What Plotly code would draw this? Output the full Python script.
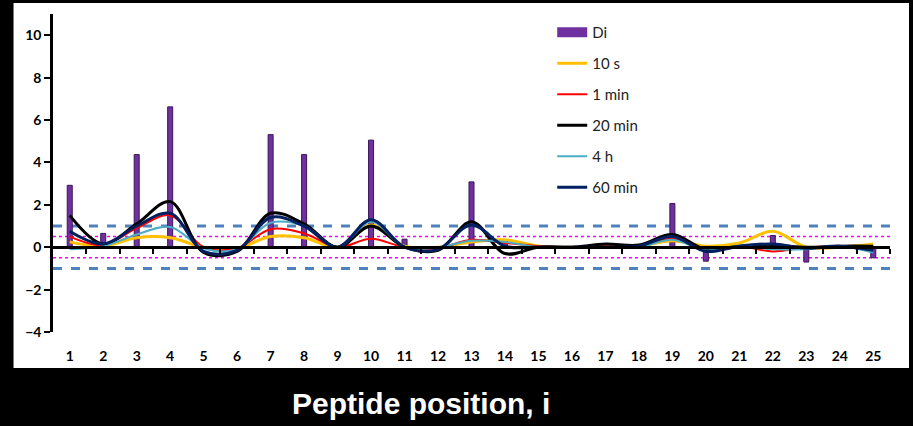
import plotly.graph_objects as go

positions = list(range(1, 26))
tick_labels = [str(p) for p in positions]

di = [2.92, 0.65, 4.37, 6.62, 0, 0, 5.31, 4.37, 0, 5.05, 0.38, 0, 3.08, 0.3, 0, 0, 0, 0,
      2.06, -0.66, 0, 0.55, -0.7, 0, -0.5]
s10 = [0.25, 0.05, 0.45, 0.45, 0, -0.05, 0.5, 0.45, 0, 1.05, 0.05, 0, 0.25, 0.35, 0.05, 0,
       0.05, 0.05, 0.3, 0.05, 0.2, 0.75, 0, 0, 0.15]
min1 = [0.5, 0.1, 0.9, 1.5, 0, -0.05, 0.85, 0.65, 0, 0.4, 0, -0.05, 0.35, 0.2, 0.05, 0,
        0.05, 0.05, 0.4, -0.1, 0.05, -0.2, 0, 0, -0.1]
min20 = [1.5, 0.15, 1.1, 2.15, -0.25, -0.2, 1.6, 1.1, 0, 1.0, 0, -0.15, 1.2, -0.3, 0, 0,
         0.15, 0.1, 0.6, -0.1, 0.05, 0.1, 0, 0.05, 0.05]
h4 = [-0.1, 0.05, 0.6, 0.95, -0.05, -0.1, 1.15, 1.0, 0, 1.2, 0, 0, 0.3, 0.25, 0, 0,
      0, 0, 0.35, -0.15, 0.05, -0.1, -0.1, 0.05, -0.25]
min60 = [0.75, 0.15, 1.0, 1.6, -0.2, -0.15, 1.4, 1.0, 0, 1.3, 0, -0.1, 1.05, 0.05, 0, 0,
         0, 0.05, 0.5, -0.2, 0.05, 0.15, -0.05, 0.05, -0.15]

outer_thresholds = [1, -1]
inner_thresholds = [0.5, -0.5]
y_ticks = [-4, -2, 0, 2, 4, 6, 8, 10]

W, H = 913, 426
ml, mr, mt, mb = 52.5, 23, 14, 94
pw = W - ml - mr
ph = H - mt - mb

fig = go.Figure()
fig.add_trace(go.Bar(x=positions, y=di, name="Di", width=0.15,
                     marker=dict(color="#7030A0", line=dict(color="#3A1656", width=1)),
                     showlegend=False))
# legend entry for the bars, drawn as a wide swatch like the original
fig.add_trace(go.Scatter(x=[None], y=[None], name="Di", mode="lines",
                         line=dict(color="#7030A0", width=10), legendgroup="a"))
series = [("10 s", s10, "#FFC000", 3), ("1 min", min1, "#FF0000", 2),
          ("20 min", min20, "#000000", 3), ("4 h", h4, "#4BACC6", 2),
          ("60 min", min60, "#002060", 3)]
for i, (nm, vals, col, w) in enumerate(series):
    fig.add_trace(go.Scatter(x=positions, y=vals, name=nm, mode="lines",
                             line=dict(color=col, width=w, shape="spline", smoothing=1.0),
                             legendgroup=str(i)))

shapes = [dict(type="rect", xref="paper", yref="paper",
               x0=(13 - ml) / pw, x1=(909 - ml) / pw,
               y0=(H - mb - 368) / ph, y1=(H - mb - 3) / ph,
               fillcolor="white", line=dict(width=0), layer="below")]
for t in outer_thresholds:
    shapes.append(dict(type="line", xref="paper", yref="y", x0=0, x1=1, y0=t, y1=t,
                       line=dict(color="#4F81BD", width=3, dash="dash"), layer="below"))
for t in inner_thresholds:
    shapes.append(dict(type="line", xref="paper", yref="y", x0=0, x1=1, y0=t, y1=t,
                       line=dict(color="#FF00FF", width=1.5, dash="dot"), layer="below"))

fig.update_layout(
    width=W, height=H,
    margin=dict(l=ml, r=mr, t=mt, b=mb),
    paper_bgcolor="black", plot_bgcolor="rgba(0,0,0,0)",
    shapes=shapes,
    showlegend=True,
    legend=dict(x=(552 - ml) / pw, y=(H - mb - 16) / ph, xanchor="left", yanchor="top",
                bgcolor="rgba(0,0,0,0)", font=dict(family="Lato", size=15, color="#222"),
                tracegroupgap=8.5, traceorder="grouped", itemwidth=30),
    xaxis=dict(range=[0.5, 25.5], tickvals=positions, ticktext=tick_labels,
               showline=False, showgrid=False, zeroline=False, ticks="",
               tickfont=dict(family="Lato", size=14, color="black", weight="bold"),
               ticklabelstandoff=14),
    xaxis2=dict(overlaying="x", anchor="free", position=(0 - (-4)) / 15,
                range=[0.5, 25.5], tickvals=[p + 0.5 for p in positions],
                showticklabels=False, showline=True, linecolor="black", linewidth=2.5,
                ticks="outside", ticklen=5, tickwidth=2, tickcolor="black",
                showgrid=False, zeroline=False, side="bottom"),
    yaxis=dict(range=[-4, 11], tickvals=y_ticks, showgrid=False, zeroline=False,
               showline=True, linecolor="black", linewidth=2.5,
               ticks="outside", ticklen=6, tickwidth=2, tickcolor="black",
               tickfont=dict(family="Lato", size=14, color="black", weight="bold")),
    annotations=[dict(text="<b>Peptide position, i</b>", xref="paper", yref="paper",
                      x=(421 - ml) / pw, y=(H - mb - 403) / ph, showarrow=False,
                      xanchor="center", yanchor="middle",
                      font=dict(family="Liberation Sans", size=30, color="white"))],
)
fig.add_trace(go.Scatter(x=[], y=[], xaxis="x2", showlegend=False, hoverinfo="skip"))
fig.write_html("out.html")
